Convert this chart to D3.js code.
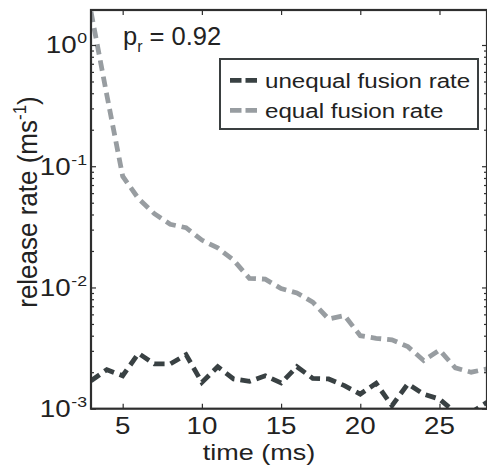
<!DOCTYPE html>
<html>
<head>
<meta charset="utf-8">
<script src="https://cdn.jsdelivr.net/npm/d3@7"></script>
<style>
  html, body { margin: 0; padding: 0; background: #fff; }
  svg { display: block; }
  text { font-family: "Liberation Sans", Arial, Helvetica, sans-serif; fill: #222; }
</style>
</head>
<body>
<svg id="chart" width="487" height="467"></svg>
<script>
// ---- data ----
const times = [3,4,5,6,7,8,9,10,11,12,13,14,15,16,17,18,19,20,21,22,23,24,25,26,27,28];
const unequalRate = [0.0017,0.0021,0.00187,0.00286,0.00234,0.00234,0.00279,0.00165,0.00222,0.00176,0.00168,0.00187,0.00163,
                     0.00222,0.00178,0.00176,0.00155,0.00132,0.00162,0.00106,0.00160,0.00132,0.00120,0.00093,0.00093,0.00113];
const equalRate = [1.88,0.386,0.0827,0.054,0.0406,0.0332,0.0311,0.0246,0.0212,0.0168,0.0119,0.0117,0.0098,
                   0.0090,0.00757,0.0055,0.00587,0.0040,0.00381,0.0037,0.00325,0.0025,0.00305,0.00217,0.0020,0.00213];
const xTickValues = [5,10,15,20,25];
const yTickExponents = [-3,-2,-1,0];
const seriesNames = ["unequal fusion rate","equal fusion rate"];
const seriesColors = ["#394143","#989da1"];
const annotation = {main: "p", sub: "r", rest: " = 0.92"};

// ---- layout ----
const mLeft = 91, mRight = 487, mTop = 10, mBottom = 408.7;
const svg = d3.select("#chart");

const x = d3.scaleLinear().domain([3, 28]).range([mLeft, mRight]);
const y = d3.scaleLog().domain([1e-3, 1.944]).range([mBottom, mTop]);

const axisColor = "#2e2e2e";

// clip
svg.append("defs").append("clipPath").attr("id","plotclip")
  .append("rect").attr("x", mLeft).attr("y", mTop).attr("width", mRight-mLeft).attr("height", mBottom-mTop);

// ---- series lines ----
const line = d3.line().x((d,i) => x(times[i])).y(d => y(d));
const gLines = svg.append("g").attr("clip-path","url(#plotclip)");
[unequalRate, equalRate].forEach((vals, k) => {
  gLines.append("path").datum(vals)
    .attr("d", line)
    .attr("fill","none")
    .attr("stroke", seriesColors[k])
    .attr("stroke-width", 4.8)
    .attr("stroke-dasharray", "10.5,6")
    .attr("stroke-linejoin","miter");
});

// ---- axes (ticks inward, box) ----
const majorY = yTickExponents.map(e => Math.pow(10, e));
const minorY = y.ticks().filter(v => majorY.every(m => Math.abs(v - m) / m > 1e-6));

const axB = svg.append("g").attr("transform", `translate(0,${mBottom})`)
  .call(d3.axisBottom(x).tickValues(xTickValues).tickSizeInner(-5).tickSizeOuter(0).tickFormat(""));
const axT = svg.append("g").attr("transform", `translate(0,${mTop})`)
  .call(d3.axisTop(x).tickValues(xTickValues).tickSizeInner(-5).tickSizeOuter(0).tickFormat(""));
const axL = svg.append("g").attr("transform", `translate(${mLeft},0)`)
  .call(d3.axisLeft(y).tickValues(majorY).tickSizeInner(-5).tickSizeOuter(0).tickFormat(""));
const axLm = svg.append("g").attr("transform", `translate(${mLeft},0)`)
  .call(d3.axisLeft(y).tickValues(minorY).tickSizeInner(-3).tickSizeOuter(0).tickFormat(""));
const axR = svg.append("g").attr("transform", `translate(${mRight},0)`)
  .call(d3.axisRight(y).tickValues(majorY).tickSizeInner(-5).tickSizeOuter(0).tickFormat(""));
const axRm = svg.append("g").attr("transform", `translate(${mRight},0)`)
  .call(d3.axisRight(y).tickValues(minorY).tickSizeInner(-3).tickSizeOuter(0).tickFormat(""));
[axB, axT, axL, axLm, axR, axRm].forEach(a => {
  a.selectAll("path.domain").remove();
  a.selectAll("line").attr("stroke", axisColor).attr("stroke-width", 1.2);
});
// box frame
svg.append("rect").attr("x", mLeft).attr("y", mTop).attr("width", mRight-mLeft).attr("height", mBottom-mTop)
  .attr("fill","none").attr("stroke", axisColor).attr("stroke-width", 2.2);

// ---- tick labels ----
const sx = 1.18;
xTickValues.forEach(v => {
  svg.append("g").attr("transform", `translate(${x(v)},${mBottom+24.8}) scale(${sx},1)`)
    .append("text").attr("text-anchor","middle").attr("font-size", 23.5).text(v);
});
yTickExponents.forEach(e => {
  const t = svg.append("g").attr("transform", `translate(87,${y(Math.pow(10,e))+8.3}) scale(${sx},1)`)
    .append("text").attr("text-anchor","end").attr("font-size", 23.5);
  t.append("tspan").text("10");
  t.append("tspan").attr("dy", -10).attr("dx", 0.5).attr("font-size", 15).text(e === 0 ? "0" : "-" + Math.abs(e));
});

// ---- axis titles ----
svg.append("g").attr("transform", `translate(259,459.5) scale(1.2,1)`)
  .append("text").attr("text-anchor","middle").attr("font-size", 22.5).text("time (ms)");
const yt = svg.append("g").attr("transform", `translate(37,202) scale(1.08,1) rotate(-90)`)
  .append("text").attr("text-anchor","middle").attr("font-size", 26);
yt.append("tspan").text("release rate (ms");
yt.append("tspan").attr("dy", -10).attr("font-size", 17).text("-1");
yt.append("tspan").attr("dy", 10).text(")");

// ---- annotation ----
const an = svg.append("text").attr("x", 123).attr("y", 45).attr("font-size", 25.5);
an.append("tspan").text(annotation.main);
an.append("tspan").attr("dy", 7).attr("font-size", 16).text(annotation.sub);
an.append("tspan").attr("dy", -7).text(annotation.rest);

// ---- legend ----
const lg = svg.append("g");
lg.append("rect").attr("x", 220).attr("y", 59).attr("width", 258).attr("height", 70)
  .attr("fill","#fff").attr("stroke", "#3a3f40").attr("stroke-width", 2);
const rowsY = [80.3, 110.3];
seriesNames.forEach((name, k) => {
  lg.append("line").attr("x1", 230).attr("x2", 257).attr("y1", rowsY[k]).attr("y2", rowsY[k])
    .attr("stroke", seriesColors[k]).attr("stroke-width", 4.8).attr("stroke-dasharray", "11.5,4");
  lg.append("g").attr("transform", `translate(265,${rowsY[k]+8}) scale(1.15,1)`)
    .append("text").attr("font-size", 21).text(name);
});
</script>
</body>
</html>
